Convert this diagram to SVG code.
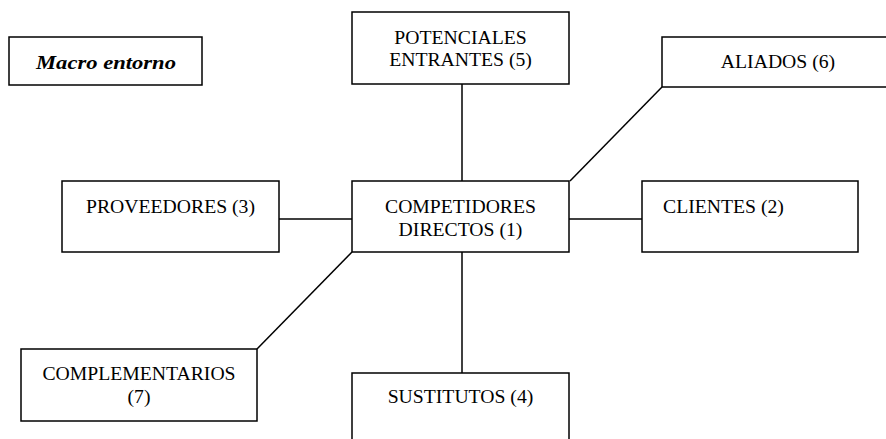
<svg xmlns="http://www.w3.org/2000/svg" width="886" height="439" viewBox="0 0 886 439">
<style>
.box{fill:#fff;stroke:#000;stroke-width:1.5}
.lbl{font-family:"Liberation Serif","Times New Roman",serif;font-size:19.7px;fill:#000;text-anchor:middle}
.conn{stroke:#000;stroke-width:1.5;fill:none}
</style>
<rect width="886" height="439" fill="#fff"/>
<g id="connectors">
<line class="conn" x1="462" y1="84" x2="462" y2="181"/>
<line class="conn" x1="662" y1="87" x2="570" y2="181"/>
<line class="conn" x1="279" y1="219" x2="352" y2="219"/>
<line class="conn" x1="569" y1="219" x2="642" y2="219"/>
<line class="conn" x1="352" y1="252" x2="257" y2="349"/>
<line class="conn" x1="462" y1="252" x2="462" y2="373"/>
</g>
<g id="macro">
<rect class="box" x="9" y="37" width="193" height="48"/>
<text class="lbl" x="106" y="69" style="font-weight:bold;font-style:italic" textLength="140" lengthAdjust="spacingAndGlyphs">Macro entorno</text>
</g>
<g id="potenciales">
<rect class="box" x="352" y="12" width="217" height="72"/>
<text class="lbl" x="460.5" y="44">POTENCIALES</text>
<text class="lbl" x="460.5" y="66">ENTRANTES (5)</text>
</g>
<g id="aliados">
<rect class="box" x="662" y="37" width="234" height="50"/>
<text class="lbl" x="778" y="68">ALIADOS (6)</text>
</g>
<g id="proveedores">
<rect class="box" x="62" y="181" width="217" height="71"/>
<text class="lbl" x="170.5" y="213">PROVEEDORES (3)</text>
</g>
<g id="competidores">
<rect class="box" x="352" y="181" width="217" height="71"/>
<text class="lbl" x="460.5" y="213">COMPETIDORES</text>
<text class="lbl" x="460.5" y="236">DIRECTOS (1)</text>
</g>
<g id="clientes">
<rect class="box" x="642" y="181" width="216" height="71"/>
<text class="lbl" x="663" y="213" style="text-anchor:start">CLIENTES (2)</text>
</g>
<g id="complementarios">
<rect class="box" x="21" y="349" width="236" height="72"/>
<text class="lbl" x="139" y="380">COMPLEMENTARIOS</text>
<text class="lbl" x="139" y="403">(7)</text>
</g>
<g id="sustitutos">
<rect class="box" x="352" y="373" width="217" height="72"/>
<text class="lbl" x="460.5" y="403">SUSTITUTOS (4)</text>
</g>
</svg>
